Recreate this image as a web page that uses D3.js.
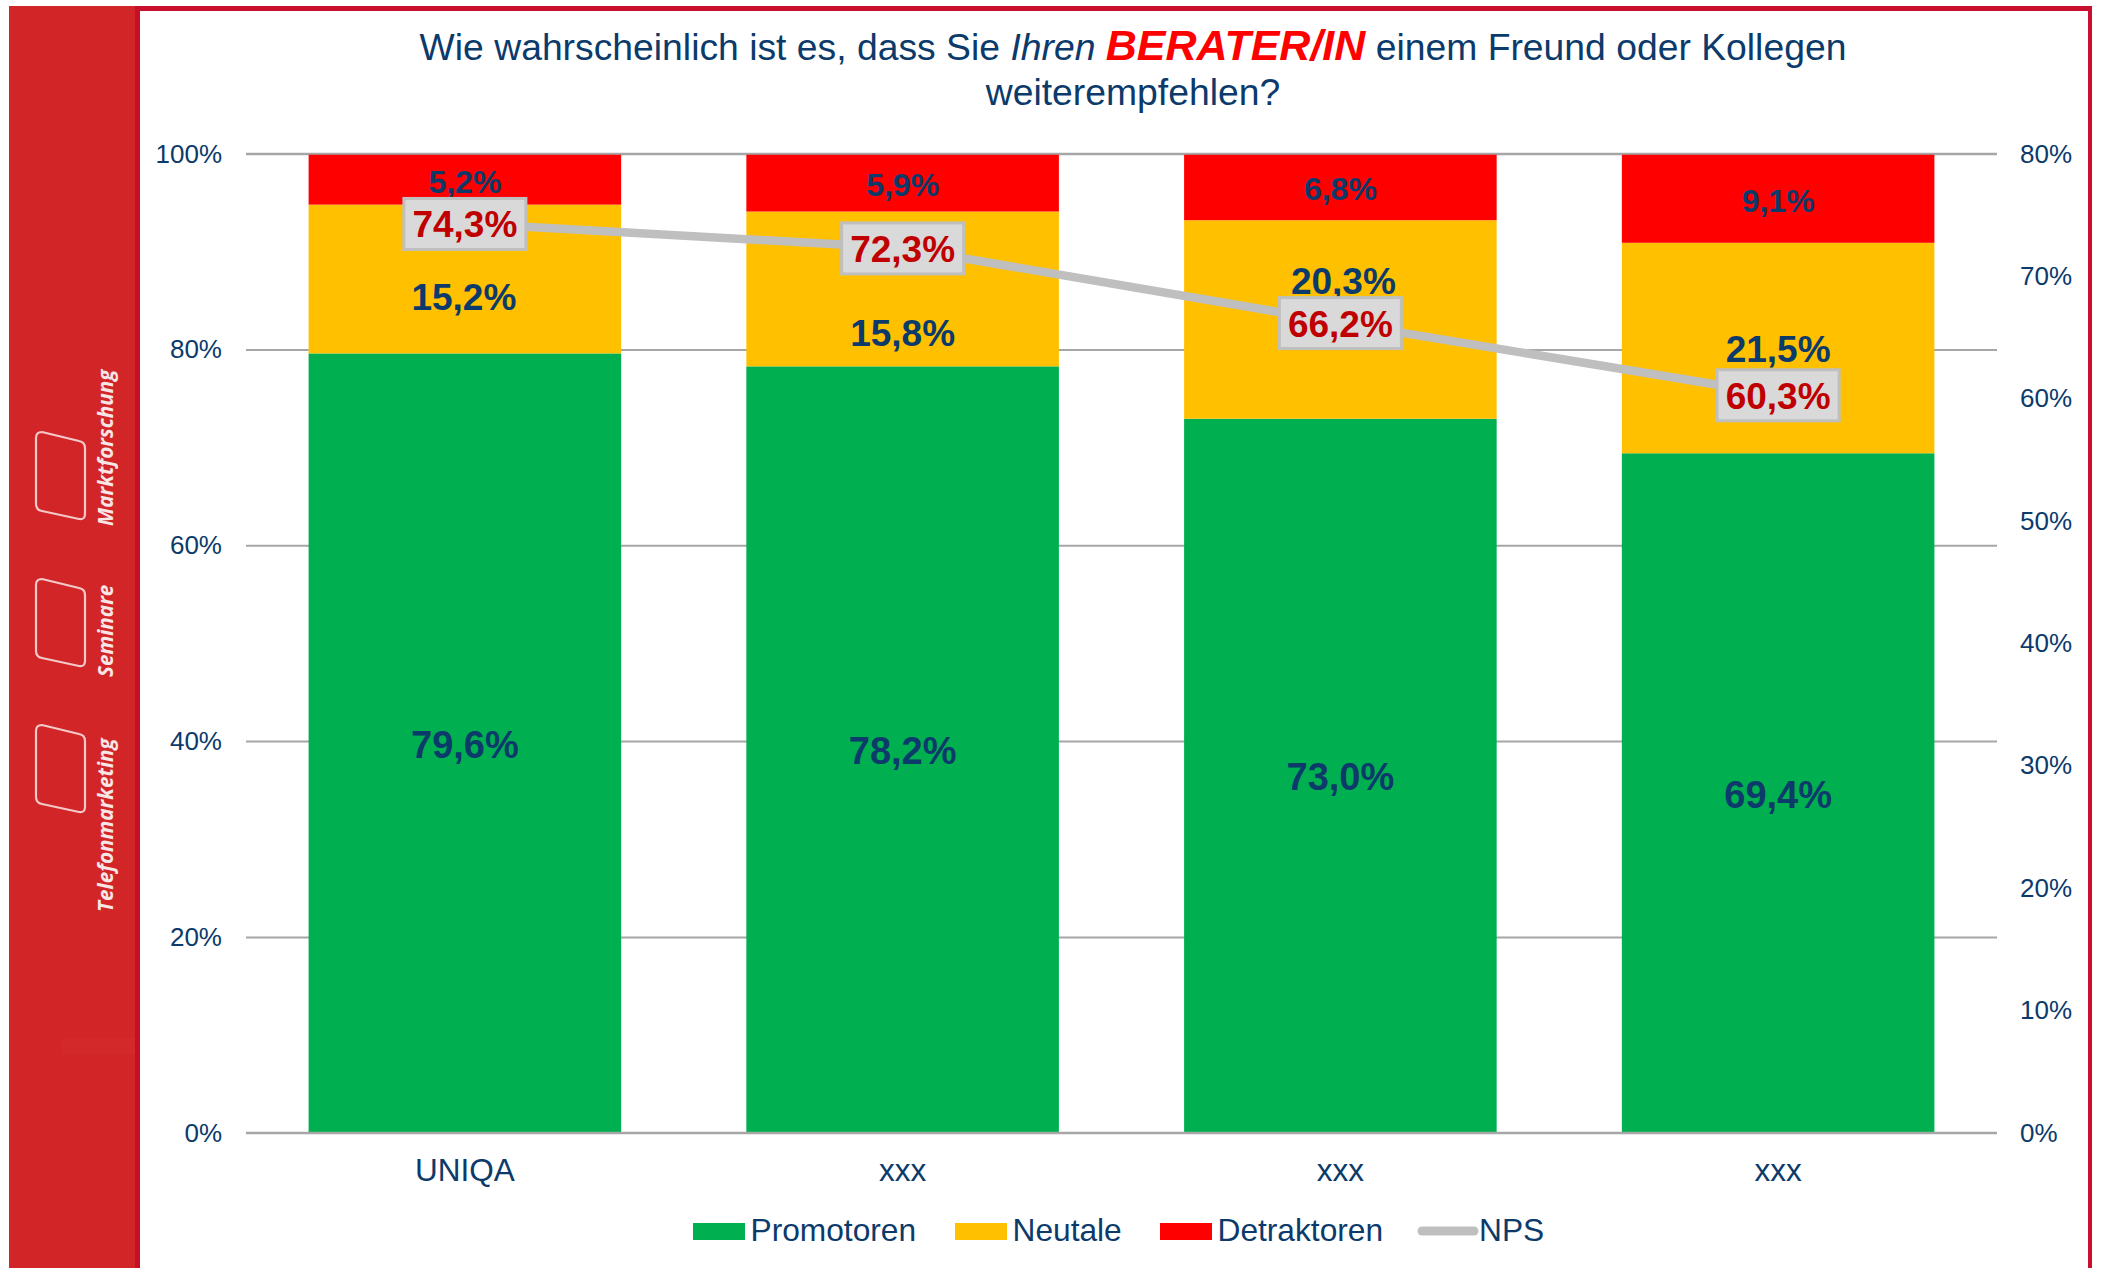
<!DOCTYPE html>
<html><head><meta charset="utf-8">
<script src="https://cdn.jsdelivr.net/npm/d3@7/dist/d3.min.js"></script>
<style>html,body{margin:0;padding:0;background:#fff}svg{display:block}text{font-family:"Liberation Sans",Arial,sans-serif}</style>
</head><body><svg id="c" width="2103" height="1268"></svg>
<script>
const categories = ["UNIQA","xxx","xxx","xxx"];
const promotoren = [79.6,78.2,73.0,69.4];
const neutrale = [15.2,15.8,20.3,21.5];
const detraktoren = [5.2,5.9,6.8,9.1];
const nps = [74.3,72.3,66.2,60.3];
const leftTicks = [0,20,40,60,80,100];
const rightTicks = [0,10,20,30,40,50,60,70,80];
const seriesNames = ["Promotoren","Neutale","Detraktoren"];
const seriesValues = [promotoren,neutrale,detraktoren];
const sidebarLabels = ["Marktforschung","Seminare","Telefonmarketing"];

const NAVY="#0b3a6b", GREY="#bfbfbf", COLORS=["#00b050","#ffc000","#ff0000"];
const fmt=v=>v.toFixed(1).replace(".",",")+"%";
const svg=d3.select("#c");

// frame and sidebar
svg.append("rect").attr("x",9).attr("y",6).attr("width",127).attr("height",1262).attr("fill","#d12527");
svg.append("rect").attr("x",62).attr("y",1038).attr("width",73).attr("height",16).attr("fill","#d3292b");
svg.append("rect").attr("x",135).attr("y",6).attr("width",5).attr("height",1262).attr("fill","#c50f23");
svg.append("rect").attr("x",135).attr("y",6).attr("width",1957).attr("height",5).attr("fill","#c8102e");
svg.append("rect").attr("x",2088).attr("y",6).attr("width",4).attr("height",1262).attr("fill","#c8102e");

[[432,526],[579,677],[725,912]].forEach(([top,bot],i)=>{
  const l=36,r=85,h=top+88,s=10,c=6;
  svg.append("path").attr("fill","none").attr("stroke","#f3c9c9").attr("stroke-width",2.2)
    .attr("d",`M${l+c},${top} L${r-c},${top+s-1} Q${r},${top+s} ${r},${top+s+c} L${r},${h-c} Q${r},${h} ${r-c},${h-1} L${l+c},${h-s+1} Q${l},${h-s} ${l},${h-s-c} L${l},${top+c} Q${l},${top} ${l+c},${top} Z`);
  svg.append("text").attr("transform",`translate(113,${bot}) rotate(-90)`)
    .attr("fill","#f8e6e6").attr("font-size",20.7).attr("font-weight",700).attr("font-style","italic")
    .style("font-family","'Open Sans',sans-serif").text(sidebarLabels[i]);
});

// title
const t1=svg.append("text").attr("x",1133).attr("y",60).attr("text-anchor","middle").attr("fill",NAVY).attr("font-size",37.3);
t1.append("tspan").text("Wie wahrscheinlich ist es, dass Sie ");
t1.append("tspan").attr("font-style","italic").text("Ihren ");
t1.append("tspan").attr("font-style","italic").attr("font-weight",700).attr("font-size",43).attr("fill","#ff0000").text("BERATER/IN");
t1.append("tspan").text(" einem Freund oder Kollegen");
svg.append("text").attr("x",1133).attr("y",105).attr("text-anchor","middle").attr("fill",NAVY).attr("font-size",37.3).text("weiterempfehlen?");

// scales
const x=d3.scaleBand().domain(d3.range(categories.length)).range([246,1997]).paddingInner(0.286).paddingOuter(0.143);
const y=d3.scaleLinear().domain([0,100]).range([1132.7,153.7]);
const y2=d3.scaleLinear().domain([0,80]).range([1132.7,153.7]);

// gridlines and axes
const gridAxis=d3.axisLeft(y).tickValues(leftTicks).tickSize(-1751).tickFormat(d=>d+"%").tickPadding(24);
const ga=svg.append("g").attr("transform","translate(246,0)").call(gridAxis);
ga.select(".domain").remove();
ga.selectAll("line").attr("stroke","#a6a6a6").attr("stroke-width",2);
ga.selectAll("text").attr("fill",NAVY).attr("font-size",26).style("font-family","'Liberation Sans',Arial,sans-serif");
const ra=svg.append("g").attr("transform","translate(1997,0)").call(d3.axisRight(y2).tickValues(rightTicks).tickSize(0).tickFormat(d=>d+"%").tickPadding(23));
ra.select(".domain").remove();
ra.selectAll("text").attr("fill",NAVY).attr("font-size",26).style("font-family","'Liberation Sans',Arial,sans-serif");

// stacked bars
const rows=categories.map((c,i)=>{const o={i};seriesNames.forEach((n,k)=>o[n]=seriesValues[k][i]);return o;});
const stacked=d3.stack().keys(seriesNames).offset(d3.stackOffsetExpand)(rows);
stacked.forEach((s,k)=>{
  svg.append("g").selectAll("rect").data(s).join("rect")
    .attr("x",d=>x(d.data.i)).attr("width",x.bandwidth())
    .attr("y",d=>y(d[1]*100)).attr("height",d=>y(d[0]*100)-y(d[1]*100))
    .attr("fill",COLORS[k]);
});
svg.append("line").attr("x1",246).attr("x2",1997).attr("y1",y(0)).attr("y2",y(0)).attr("stroke","#a6a6a6").attr("stroke-width",2);
svg.append("line").attr("x1",246).attr("x2",1997).attr("y1",y(100)).attr("y2",y(100)).attr("stroke","#a6a6a6").attr("stroke-width",2);

// category labels
const cx=i=>x(i)+x.bandwidth()/2;
svg.append("g").selectAll("text").data(categories).join("text")
  .attr("x",(d,i)=>cx(i)).attr("y",1181).attr("text-anchor","middle").attr("fill",NAVY).attr("font-size",31.5).text(d=>d);

// NPS line
svg.append("path").datum(nps).attr("fill","none").attr("stroke",GREY).attr("stroke-width",8.5).attr("stroke-linecap","round")
  .attr("d",d3.line().x((d,i)=>cx(i)).y(d=>y2(d)));

// segment labels
const labelFont=[38,37,32];
const labelDrop=[1,1,2];
const neutralNudgeY=[17,43,-40,0];
const neutralNudgeX=[-1,0,3,0];
stacked.forEach((s,k)=>{
  svg.append("g").selectAll("text").data(s).join("text")
    .attr("x",d=>cx(d.data.i)+(k===1?neutralNudgeX[d.data.i]:0))
    .attr("y",d=>y((d[0]+d[1])*50)+(k===1?neutralNudgeY[d.data.i]:0)+labelFont[k]*0.36+labelDrop[k])
    .attr("text-anchor","middle").attr("fill",NAVY).attr("font-weight",700).attr("font-size",labelFont[k])
    .text(d=>fmt(seriesValues[k][d.data.i]));
});

// NPS labels
const npsG=svg.append("g").selectAll("g").data(nps).join("g").attr("transform",(d,i)=>`translate(${cx(i)},${y2(d)})`);
npsG.append("rect").attr("x",-61).attr("y",-25).attr("width",122).attr("height",51).attr("fill","#d9d9d9").attr("stroke",GREY).attr("stroke-width",3);
npsG.append("text").attr("text-anchor","middle").attr("y",14).attr("fill","#c00000").attr("font-weight",700).attr("font-size",37).text(fmt);

// legend
const legY=1230;
[[693,750.5],[955,1012.5],[1160,1217.5]].forEach(([sx,tx],k)=>{
  svg.append("rect").attr("x",sx).attr("y",legY-7).attr("width",52).attr("height",17).attr("fill",COLORS[k]);
  svg.append("text").attr("x",tx).attr("y",legY+11).attr("fill",NAVY).attr("font-size",31.7).text(seriesNames[k]);
});
svg.append("line").attr("x1",1422).attr("x2",1474).attr("y1",legY+1).attr("y2",legY+1).attr("stroke",GREY).attr("stroke-width",9).attr("stroke-linecap","round");
svg.append("text").attr("x",1479).attr("y",legY+11).attr("fill",NAVY).attr("font-size",31.7).text("NPS");
</script></body></html>
